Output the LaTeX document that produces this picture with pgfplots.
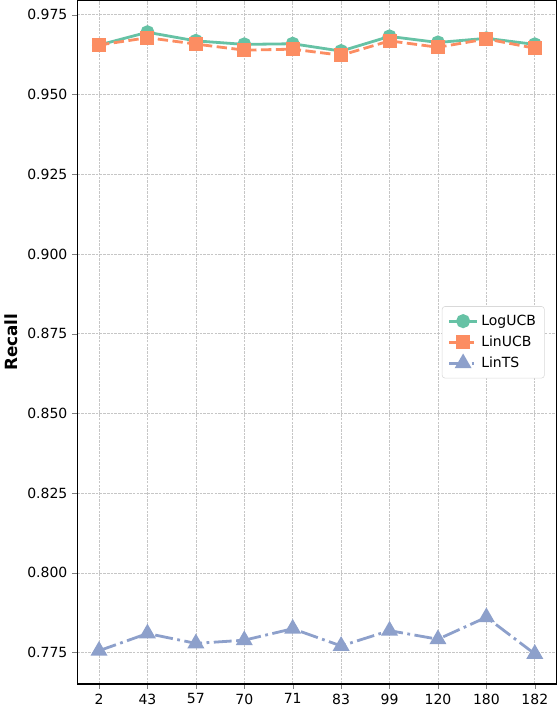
\documentclass[border=0pt]{standalone}
\usepackage{pgfplots}
\pgfplotsset{compat=1.18}
\usepackage{fontspec}
\setmainfont{DejaVu Sans}
\definecolor{cA}{HTML}{66C2A5}
\definecolor{cB}{HTML}{FC8D62}
\definecolor{cC}{HTML}{8DA0CB}
\begin{document}
\begin{tikzpicture}
\begin{axis}[
  scale only axis,
  width=341bp, height=486bp,
  xmin=-0.45, xmax=9.45,
  ymin=0.7652, ymax=0.9794,
  xtick={0,...,9},
  xticklabels={2,43,57,70,71,83,99,120,180,182},
  ytick={0.775,0.8,0.825,0.85,0.875,0.9,0.925,0.95,0.975},
  yticklabel style={/pgf/number format/.cd, fixed, fixed zerofill, precision=3},
  /pgf/number format/assume math mode=true,
  tick label style={font=\fontsize{10}{12}\selectfont},
  ylabel={\bfseries Recall},
  ylabel style={font=\fontsize{12}{14}\selectfont},
  tick align=outside,
  major tick length=3.5pt,
  xtick pos=bottom, ytick pos=left,
  grid=major,
  grid style={dash pattern=on 1.85pt off 0.8pt, gray!45, line width=0.5pt},
  axis line style={line width=1pt},
  legend style={at={(0.975,0.5)}, anchor=east, font=\fontsize{10}{12}\selectfont,
    draw=gray!30, rounded corners=2pt, row sep=2pt, inner xsep=4pt, inner ysep=4pt},
  legend cell align=left,
  legend image code/.code={
    \draw[mark repeat=2,mark phase=2] plot coordinates {(0cm,0cm)(0.35cm,0cm)(0.7cm,0cm)};
  },
]
\addplot[cA, line width=2pt, mark=*, mark size=4pt, mark options={solid}] coordinates {
  (0,0.9655)(1,0.9695)(2,0.9668)(3,0.9657)(4,0.9659)
  (5,0.9636)(6,0.9682)(7,0.9663)(8,0.9676)(9,0.9657)
};
\addplot[cB, line width=2pt, dash pattern=on 7.4pt off 3.2pt, mark=square*, mark size=4pt, mark options={solid}] coordinates {
  (0,0.9655)(1,0.9678)(2,0.9658)(3,0.9639)(4,0.9642)
  (5,0.9623)(6,0.9668)(7,0.9648)(8,0.9674)(9,0.9645)
};
\addplot[cC, line width=2pt, dash pattern=on 12.8pt off 3.2pt on 2pt off 3.2pt, mark=triangle*, mark size=5pt, mark options={solid}] coordinates {
  (0,0.7756)(1,0.7810)(2,0.7779)(3,0.7789)(4,0.7825)
  (5,0.7771)(6,0.7819)(7,0.7792)(8,0.7861)(9,0.7746)
};
\legend{LogUCB, LinUCB, LinTS}
\end{axis}
\end{tikzpicture}
\end{document}
